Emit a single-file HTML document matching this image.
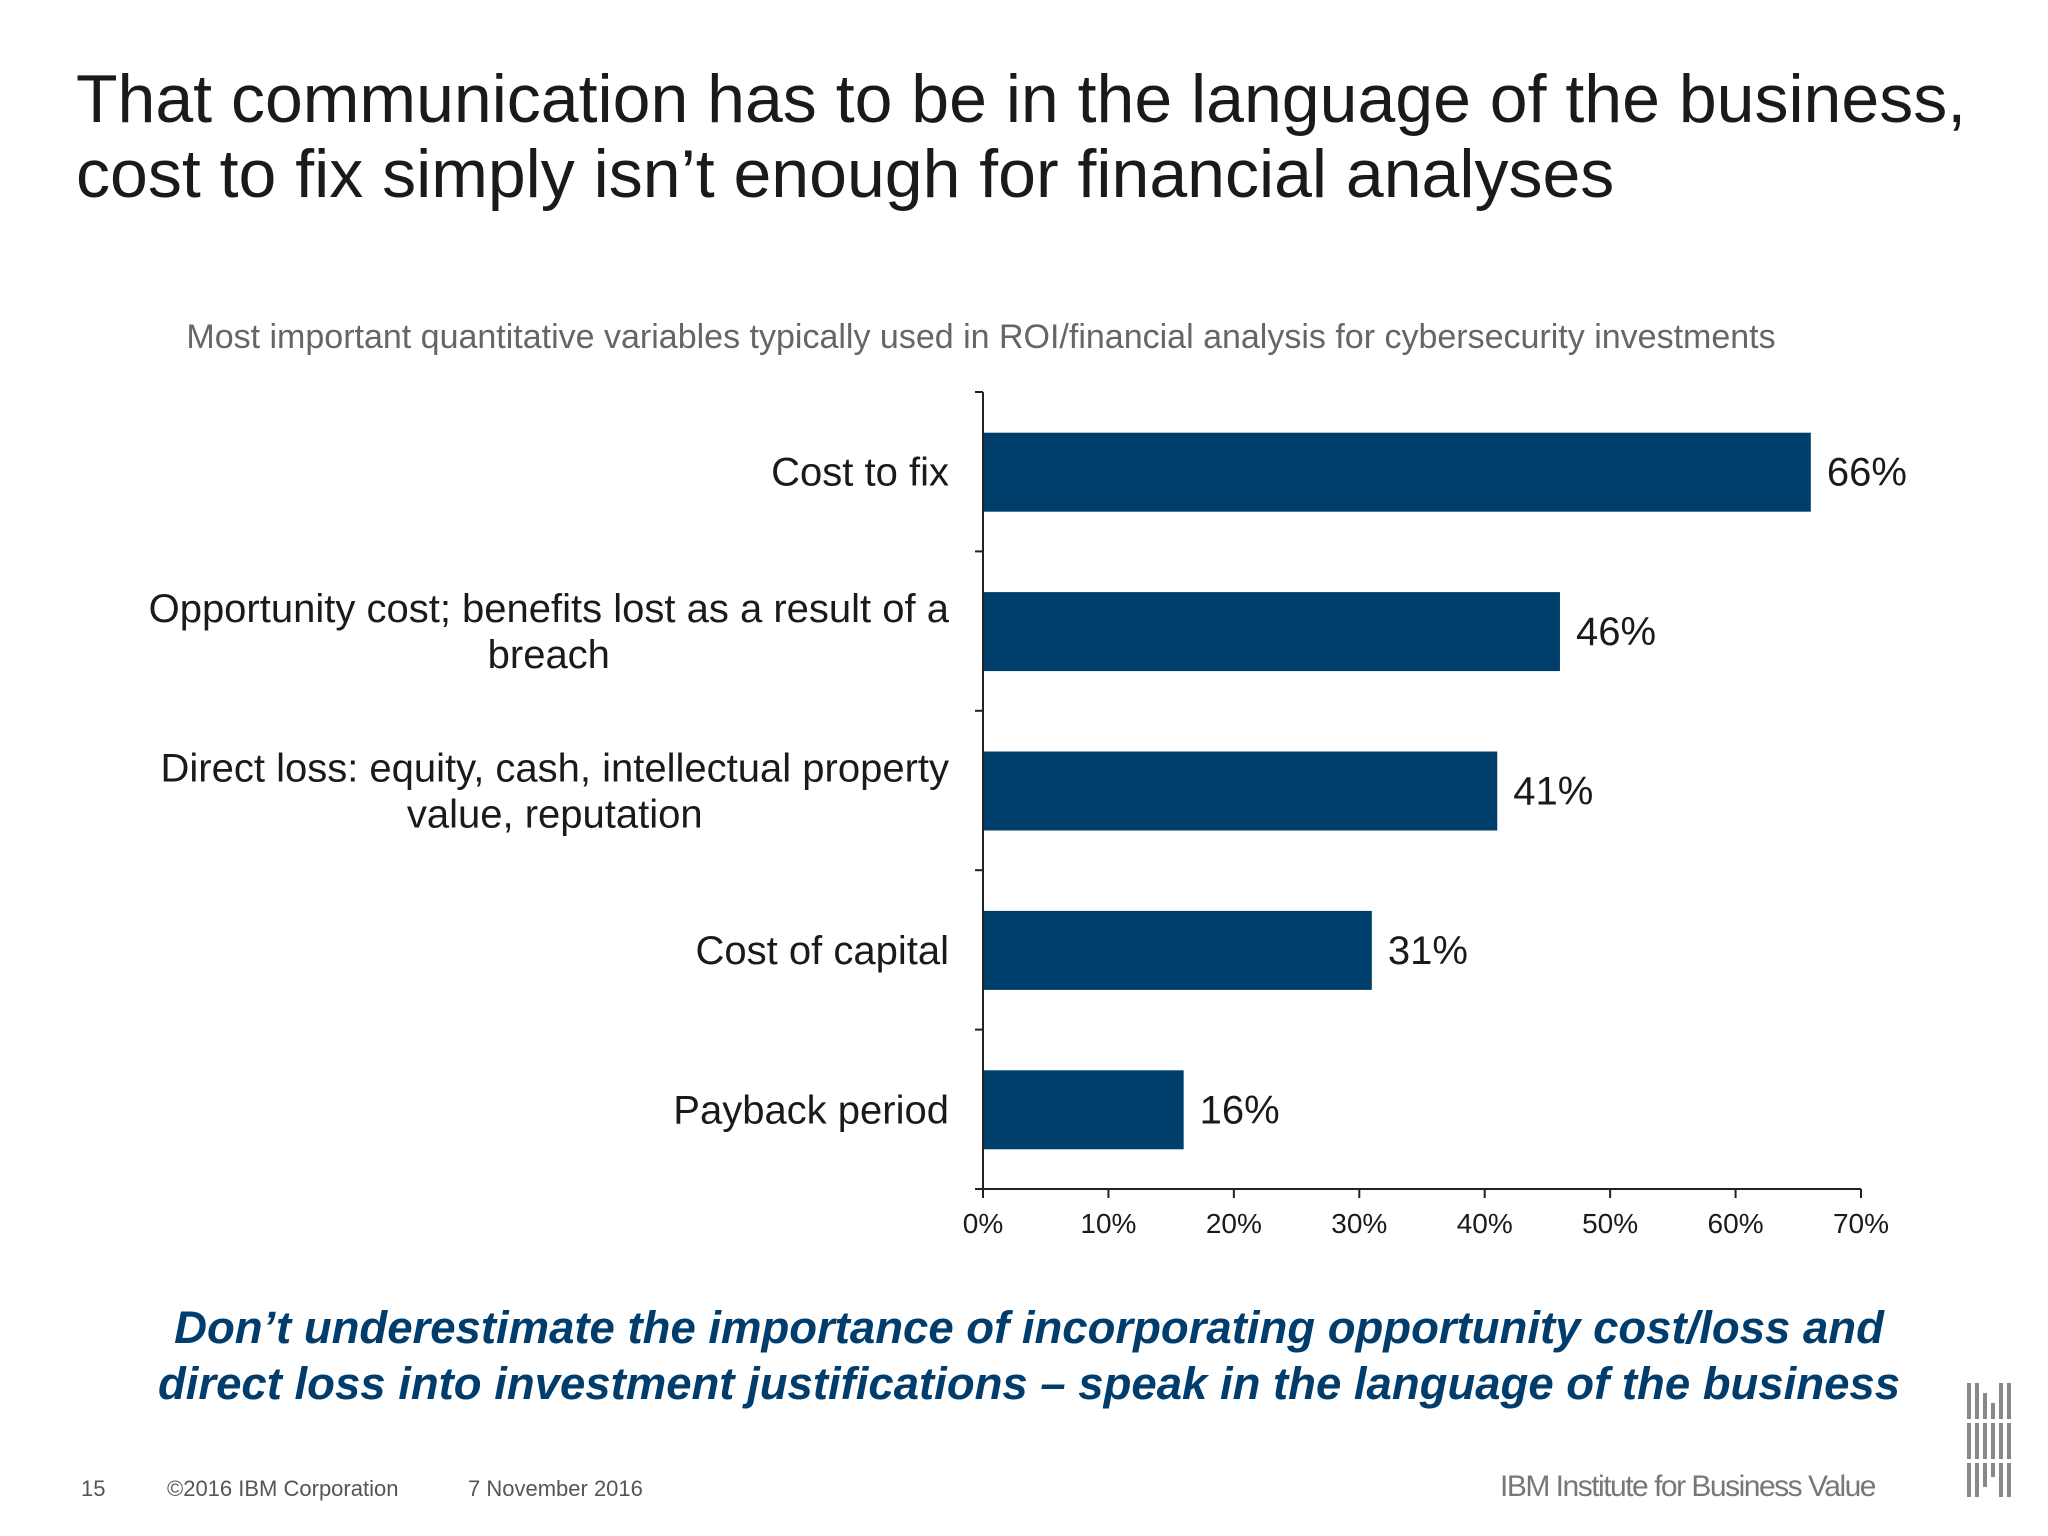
<!DOCTYPE html>
<html><head><meta charset="utf-8"><style>
body{margin:0;width:2048px;height:1536px;background:#fff;font-family:"Liberation Sans",sans-serif;overflow:hidden;position:relative}
.t{position:absolute;white-space:nowrap}
</style></head><body>
<div class="t" style="left:76px;top:62px;font-size:68px;line-height:75px;color:#1a1a1a">That communication has to be in the language of the business,<br>cost to fix simply isn’t enough for financial analyses</div>
<div class="t" style="left:0;width:1962px;text-align:center;top:318px;font-size:34px;color:#666">Most important quantitative variables typically used in ROI/financial analysis for cybersecurity investments</div>
<svg id="chart" width="2048" height="1536" style="position:absolute;left:0;top:0"></svg>
<div class="t" style="left:0;width:2058px;text-align:center;top:1300px;font-size:45.5px;line-height:56px;font-weight:bold;font-style:italic;color:#003c6c">Don’t underestimate the importance of incorporating opportunity cost/loss and<br>direct loss into investment justifications – speak in the language of the business</div>
<div class="t" style="left:81px;top:1476px;font-size:22px;color:#555">15</div>
<div class="t" style="left:167px;top:1476px;font-size:22px;color:#555">©2016 IBM Corporation</div>
<div class="t" style="left:468px;top:1476px;font-size:22px;color:#555">7 November 2016</div>
<div class="t" style="left:1500px;top:1470px;font-size:30px;color:#777;letter-spacing:-1.5px">IBM Institute for Business Value</div>
<svg style="position:absolute;left:1967px;top:1383px" width="46" height="114">
<g fill="#888"><rect x="0" y="0" width="4" height="114"/><rect x="8" y="0" width="4" height="114"/><rect x="16" y="10" width="4" height="94"/><rect x="24" y="20" width="4" height="74"/><rect x="32" y="0" width="4" height="114"/><rect x="40" y="0" width="4" height="114"/></g>
<g fill="#fff"><rect x="0" y="36" width="46" height="4"/><rect x="0" y="76" width="46" height="4"/></g></svg>
<script>
const categories=["Cost to fix","Opportunity cost; benefits lost as a result of a|breach","Direct loss: equity, cash, intellectual property|value, reputation","Cost of capital","Payback period"];
const values=[66,46,41,31,16];
const valueLabels=["66%","46%","41%","31%","16%"];
const xTicks=[0,10,20,30,40,50,60,70];
const xTickLabels=["0%","10%","20%","30%","40%","50%","60%","70%"];
const svg=document.getElementById('chart');const NS='http://www.w3.org/2000/svg';
const x0=983,x1=1861,yTop=392,yBot=1189;
const xs=v=>x0+(v-0)/(70-0)*(x1-x0);
const band=(yBot-yTop)/categories.length;
const yc=i=>yTop+band*(i+0.5);
function mk(t,a){const e=document.createElementNS(NS,t);for(const k in a)e.setAttribute(k,a[k]);svg.appendChild(e);return e;}
categories.forEach((c,i)=>{
 const b=mk('rect',{x:x0,y:yc(i)-39,width:xs(values[i])-x0,height:79,fill:'#003f6b'});
 
 
 const v=mk('text',{x:xs(values[i])+16,y:yc(i)+14,'font-size':40,fill:'#1a1a1a'});v.textContent=valueLabels[i];
 
 
 const lines=c.split('|');
 const tx=mk('text',{'font-size':40,fill:'#1a1a1a','text-anchor':'end'});
 
 
 if(lines.length>1){lines.forEach((l,j)=>{const s=document.createElementNS(NS,'tspan');s.setAttribute('x',0);s.setAttribute('y',yc(i)-23+j*46+14);s.textContent=l;tx.appendChild(s);});
  const first=tx.childNodes[0].getComputedTextLength();
  tx.setAttribute('text-anchor','middle');tx.childNodes.forEach(s=>s.setAttribute('x',949-first/2));
 } else {tx.setAttribute('x',949);tx.setAttribute('y',yc(i)+14);tx.textContent=lines[0];}
});
mk('line',{x1:x0,y1:yTop,x2:x0,y2:yBot,stroke:'#222','stroke-width':2});
for(let i=0;i<=categories.length;i++)mk('line',{x1:x0-8,y1:yTop+band*i,x2:x0,y2:yTop+band*i,stroke:'#222','stroke-width':2});
mk('line',{x1:x0-8,y1:yBot,x2:x1,y2:yBot,stroke:'#222','stroke-width':2});
xTicks.forEach((t,i)=>{mk('line',{x1:xs(t),y1:yBot,x2:xs(t),y2:yBot+9,stroke:'#222','stroke-width':2});
 const l=mk('text',{x:xs(t),y:yBot+44,'font-size':28,'text-anchor':'middle',fill:'#1a1a1a'});l.textContent=xTickLabels[i];
 
 });
</script>
</body></html>
